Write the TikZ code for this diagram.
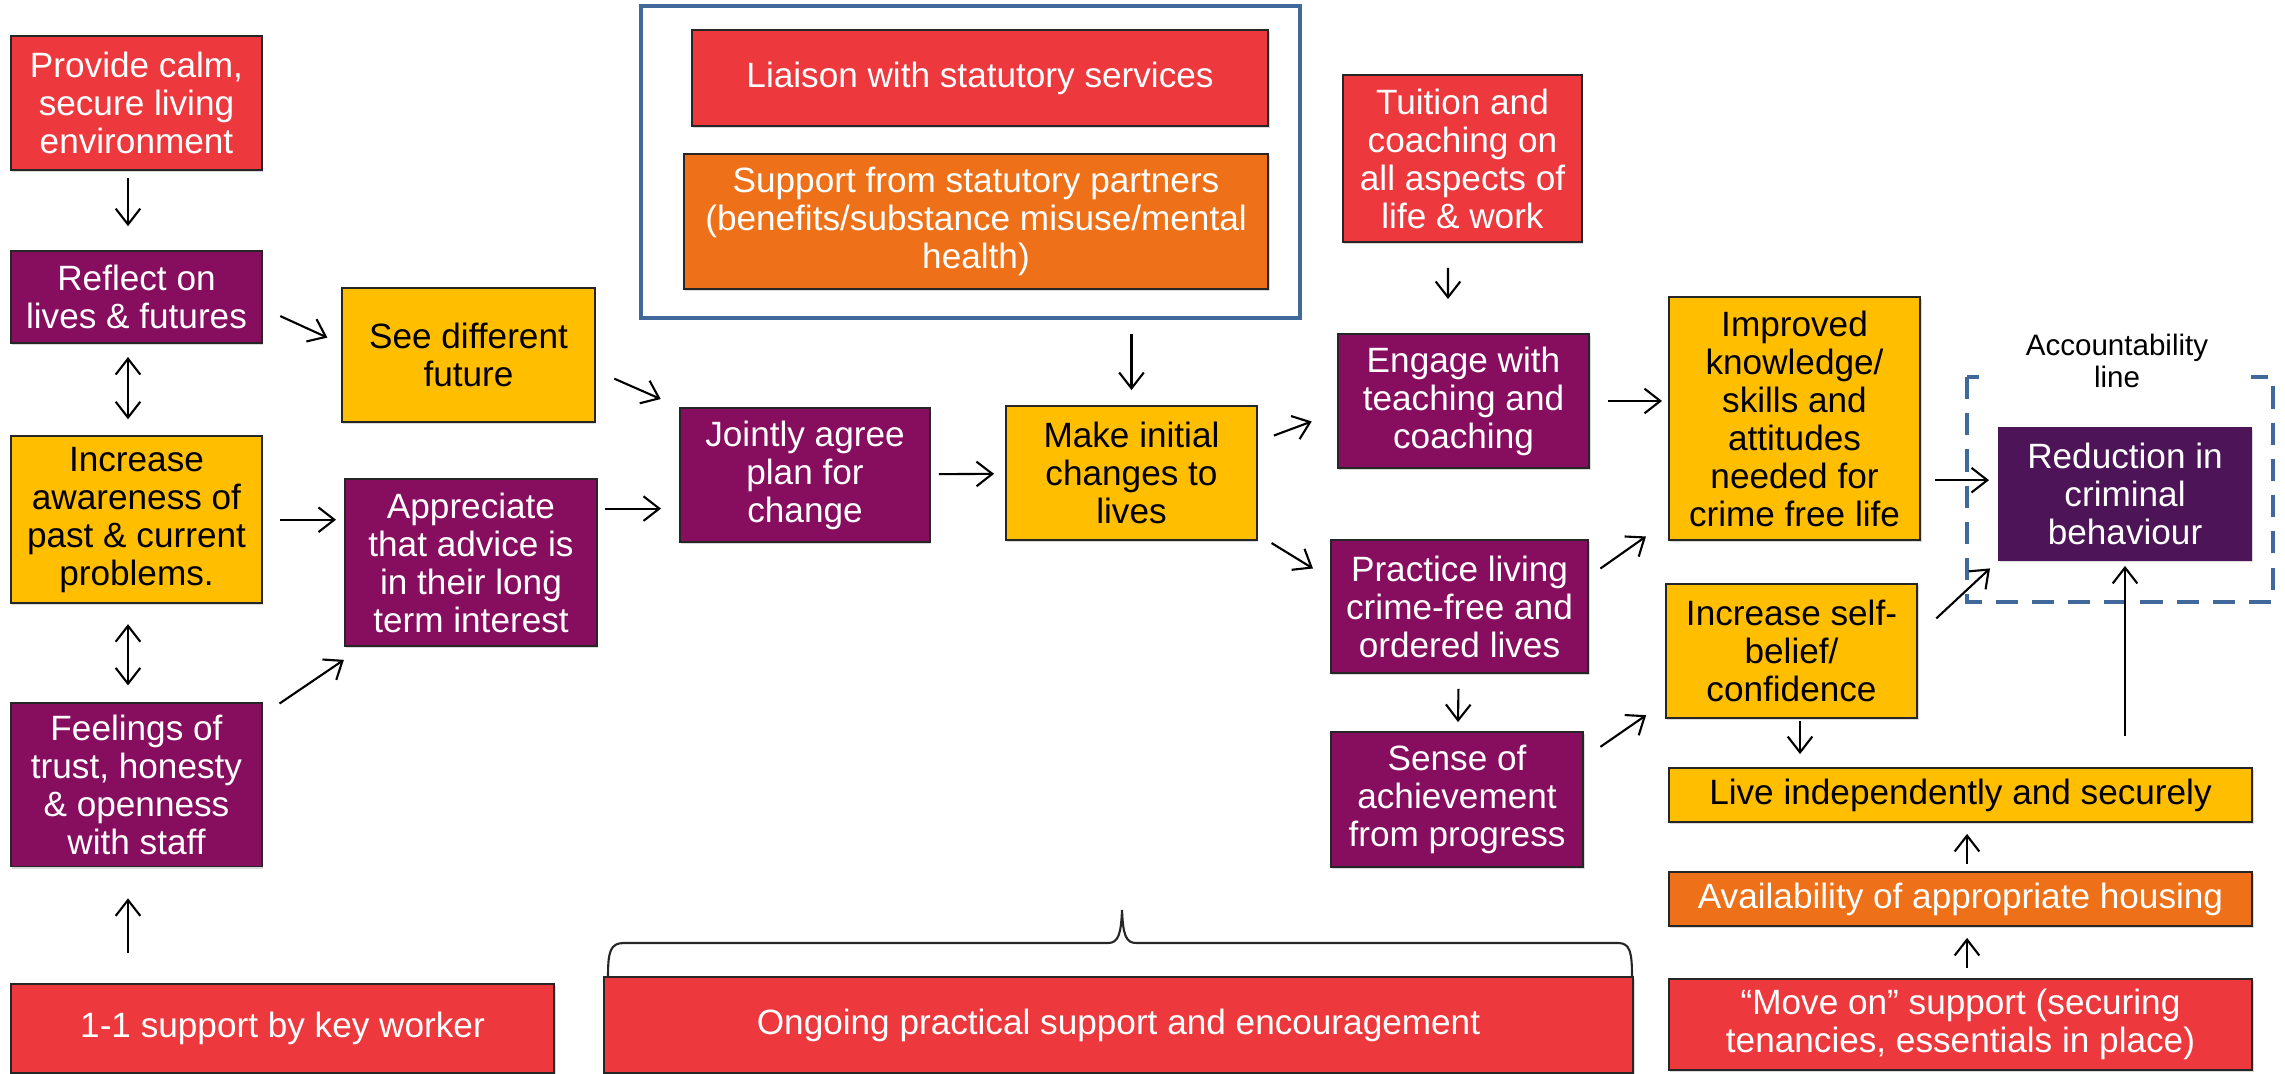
\documentclass[tikz,border=0pt]{standalone}
\usepackage{fontspec}
\setmainfont{Liberation Sans}
\usetikzlibrary{arrows.meta,positioning,shadows}
\definecolor{cbred}{RGB}{237,57,61}
\definecolor{cbpurple}{RGB}{135,13,95}
\definecolor{cbyellow}{RGB}{255,190,0}
\definecolor{cborange}{RGB}{238,113,25}
\definecolor{cbplum}{RGB}{77,21,88}
\definecolor{cbblue}{RGB}{65,104,155}
\tikzset{basic/.style={draw=black!85,line width=0.5pt,align=center,inner sep=0pt,font=\fontsize{10}{10.8}\selectfont,drop shadow={shadow xshift=0.4pt,shadow yshift=-0.6pt,opacity=0.3}}}
\tikzset{resource/.style={basic,fill=cbred,text=white}}
\tikzset{activity/.style={basic,fill=cbpurple,text=white}}
\tikzset{outcome/.style={basic,fill=cbyellow,text=black}}
\tikzset{partner/.style={basic,fill=cborange,text=white}}
\tikzset{impact/.style={basic,fill=cbplum,draw=cbplum,text=white}}
\tikzset{boxsize/.style 2 args={minimum width=#1cm,minimum height=#2cm}}
\tikzset{arrow/.style={draw,line width=0.6pt,>={Straight Barb[length=4.5pt,width=7pt]},->}}
\tikzset{accline/.style={draw=cbblue,line width=1.2pt,dash pattern=on 6.3pt off 4pt}}

\begin{document}
\begin{tikzpicture}[x=0.01cm,y=-0.01cm]
    \useasboundingbox (0,0) rectangle (2285,1074);

    \node[resource,boxsize={2.51}{1.34}] (calm) at (136.5,103) {Provide calm,\\ secure living\\ environment};
    \node[activity,boxsize={2.51}{0.92},below of=calm,node distance=1.94cm] (reflect) {Reflect on\\ lives \& futures};
    \node[outcome,boxsize={2.51}{1.67},below of=reflect,node distance=2.225cm] (aware) {Increase\\ awareness of\\ past \& current\\ problems.};
    \node[activity,boxsize={2.51}{1.63},below of=aware,node distance=2.65cm] (trust) {Feelings of\\ trust, honesty\\ \& openness\\ with staff};
    \node[resource,boxsize={5.43}{0.89}] (keywork) at (282.5,1028.5) {1-1 support by key worker};

    \node[outcome,boxsize={2.53}{1.34}] (future) at (468.5,355) {See different\\ future};
    \node[activity,boxsize={2.52}{1.67}] (advice) at (471,562.5) {Appreciate\\ that advice is\\ in their long\\ term interest};

    \node[draw=cbblue,line width=1.2pt,minimum width=6.59cm,minimum height=3.12cm] (services) at (970.5,162) {};
    \node[resource,boxsize={5.76}{0.96}] (liaison) at (980,78) {Liaison with statutory services};
    \node[partner,boxsize={5.84}{1.35}] (partners) at (976,221.5) {Support from statutory partners\\ (benefits/substance misuse/mental\\ health)};
    \node[activity,boxsize={2.50}{1.34}] (plan) at (805,475) {Jointly agree\\ plan for\\ change};
    \node[outcome,boxsize={2.51}{1.34}] (changes) at (1131.5,473) {Make initial\\ changes to\\ lives};
    \node[resource,boxsize={10.29}{0.96}] (ongoing) at (1118.5,1025) {Ongoing practical support and encouragement};

    \node[resource,boxsize={2.39}{1.67}] (tuition) at (1462.5,158.5) {Tuition and\\ coaching on\\ all aspects of\\ life \& work};
    \node[activity,boxsize={2.51}{1.34}] (engage) at (1463.5,401) {Engage with\\ teaching and\\ coaching};
    \node[activity,boxsize={2.57}{1.33}] (practice) at (1459.5,606.5) {Practice living\\ crime-free and\\ ordered lives};
    \node[activity,boxsize={2.52}{1.35}] (achieve) at (1457,799.5) {Sense of\\ achievement\\ from progress};

    \node[outcome,boxsize={2.51}{2.43}] (skills) at (1794.5,418.5) {Improved\\ knowledge/\\ skills and\\ attitudes\\ needed for\\ crime free life};
    \node[outcome,boxsize={2.51}{1.34}] (belief) at (1791.5,651) {Increase self-\\ belief/\\ confidence};
    \node[outcome,boxsize={5.83}{0.54}] (independent) at (1960.5,795) {Live independently and securely};
    \node[partner,boxsize={5.83}{0.54}] (housing) at (1960.5,899) {Availability of appropriate housing};
    \node[resource,boxsize={5.83}{0.91}] (moveon) at (1960.5,1024.5) {“Move on” support (securing\\ tenancies, essentials in place)};

    \path[accline] (1967,377) rectangle (2273,602);
    \node[fill=white,minimum width=2.67cm,inner ysep=1pt,align=center,font=\fontsize{8.4}{9.1}\selectfont] (account) at (2117,361) {Accountability\\ line};
    \node[impact,boxsize={2.52}{1.32}] (reduction) at (2125,494) {Reduction in\\ criminal\\ behaviour};

    % brace over the ongoing support
    \draw[line width=0.6pt,black!85] (608,977) .. controls (608,952) and (610,943) .. (624,943) -- (1108,943)
        .. controls (1118,943) and (1121,935) .. (1122,910) .. controls (1123,935) and (1126,943) .. (1136,943)
        -- (1618,943) .. controls (1630,943) and (1632,952) .. (1632,977);

        \path[arrow,shorten <=0.07cm,shorten >=0.24cm] ([xshift=-0.085cm]calm.south) -- ([xshift=-0.085cm]reflect.north);
        \path[arrow,<->,shorten <=0.13cm,shorten >=0.16cm] ([xshift=-0.085cm]reflect.south) -- ([xshift=-0.085cm]aware.north);
        \path[arrow,<->,shorten <=0.20cm,shorten >=0.17cm] ([xshift=-0.085cm]aware.south) -- ([xshift=-0.085cm]trust.north);
        \path[arrow,shorten <=0.30cm,shorten >=0.31cm] ([xshift=-0.085cm]trust.south |- keywork.north) -- ([xshift=-0.085cm]trust.south);
        \path[arrow,shorten <=0.19cm,shorten >=0.15cm] (reflect.-5) -- (future.175);
        \path[arrow,shorten <=0.17cm,shorten >=0.08cm] (aware.east) -- (aware.east -| advice.west);
        \path[arrow,shorten <=0.20cm,shorten >=0.23cm] (trust.29) -- (advice.218);
        \path[arrow,shorten <=0.20cm,shorten >=0.20cm] (future.-7) -- (plan.north west);
        \path[arrow,shorten <=0.07cm,shorten >=0.18cm] (advice.23) -- (advice.23 -| plan.west);
        \path[arrow,shorten <=0.08cm,shorten >=0.11cm] (plan) -- (changes);
        \path[arrow,shorten <=0.14cm,shorten >=0.15cm] (services.south -| changes.north) -- (changes.north);
        \path[arrow,shorten <=0.17cm,shorten >=0.27cm] (changes.14) -- (engage.185);
        \path[arrow,shorten <=0.16cm,shorten >=0.20cm] (changes.-26) -- (practice.168);
        \path[arrow,shorten <=0.25cm,shorten >=0.34cm] ([xshift=-0.145cm]tuition.south) -- ([xshift=-0.155cm]engage.north);
        \path[arrow,shorten <=0.18cm,shorten >=0.06cm] (engage.east) -- (engage.east -| skills.west);
        \path[arrow,shorten <=0.14cm,shorten >=0.27cm] (practice.13) -- (skills.219);
        \path[arrow,shorten <=0.15cm,shorten >=0.09cm] (practice) -- (achieve);
        \path[arrow,shorten <=0.20cm,shorten >=0.23cm] (achieve.18) -- (belief.202);
        \path[arrow,shorten <=0.14cm,shorten >=0.09cm] (skills.-26) -- (skills.-26 -| reduction.west);
        \path[arrow,shorten <=0.25cm,shorten >=0.11cm] (belief.7) -- (reduction.south west);
        \path[arrow,shorten <=0.31cm,shorten >=0.05cm] (reduction.south |- independent.north) -- (reduction.south);
        \path[arrow,shorten <=0.02cm,shorten >=0.13cm] ([xshift=0.085cm]belief.south) -- ([xshift=0.085cm]belief.south |- independent.north);
        \path[arrow,shorten <=0.07cm,shorten >=0.11cm] ([xshift=0.065cm]housing.north) -- ([xshift=0.065cm]independent.south);
        \path[arrow,shorten <=0.10cm,shorten >=0.11cm] ([xshift=0.065cm]moveon.north) -- ([xshift=0.065cm]housing.south);
\end{tikzpicture}
\end{document}
